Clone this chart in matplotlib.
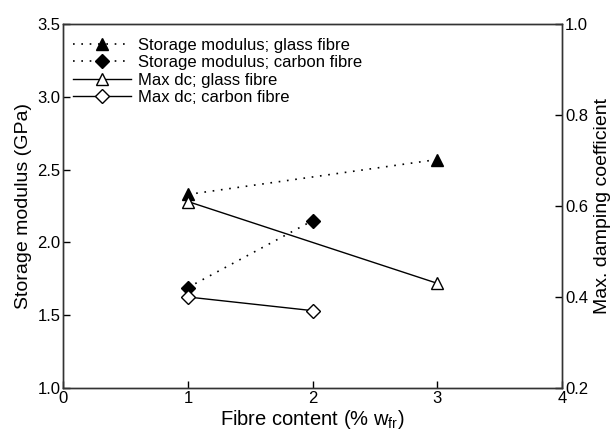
import matplotlib
matplotlib.use('Agg')
import matplotlib.pyplot as plt

plt.rcParams['font.family'] = ['Liberation Sans', 'DejaVu Sans']
plt.rcParams['mathtext.default'] = 'regular'

# Fibre content (% wfr)
glass_x = [1, 3]
carbon_x = [1, 2]

# Storage modulus (GPa), left axis
storage_glass = [2.33, 2.57]
storage_carbon = [1.69, 2.15]

# Max damping coefficient, right axis
dc_glass = [0.61, 0.43]
dc_carbon = [0.40, 0.37]

fig = plt.figure(figsize=(6.13, 4.32), dpi=100)
ax = fig.add_axes([0.103, 0.102, 0.814, 0.842])
ax2 = ax.twinx()

dot = (0, (1, 4))
h1, = ax.plot(glass_x, storage_glass, color='black', linestyle=dot, linewidth=1.2,
              marker='^', markersize=9, markerfacecolor='black', markeredgecolor='black',
              label='Storage modulus; glass fibre')
h2, = ax.plot(carbon_x, storage_carbon, color='black', linestyle=dot, linewidth=1.2,
              marker='D', markersize=7, markerfacecolor='black', markeredgecolor='black',
              label='Storage modulus; carbon fibre')
h3, = ax2.plot(glass_x, dc_glass, color='black', linestyle='-', linewidth=1,
               marker='^', markersize=9, markerfacecolor='white', markeredgecolor='black',
               label='Max dc; glass fibre')
h4, = ax2.plot(carbon_x, dc_carbon, color='black', linestyle='-', linewidth=1,
               marker='D', markersize=7, markerfacecolor='white', markeredgecolor='black',
               label='Max dc; carbon fibre')

ax.set_xlim(0, 4)
ax.set_ylim(1.0, 3.5)
ax2.set_ylim(0.2, 1.0)
ax.set_xticks([0, 1, 2, 3, 4])
ax.set_yticks([1.0, 1.5, 2.0, 2.5, 3.0, 3.5])
ax2.set_yticks([0.2, 0.4, 0.6, 0.8, 1.0])
ax.set_yticklabels(['1.0', '1.5', '2.0', '2.5', '3.0', '3.5'])
ax2.set_yticklabels(['0.2', '0.4', '0.6', '0.8', '1.0'])

for a in (ax, ax2):
    a.tick_params(direction='in', length=5, width=1, labelsize=12, pad=2)
    for s in a.spines.values():
        s.set_linewidth(1)
        s.set_color('#333333')

ax.set_xlabel('Fibre content (% w$_{fr}$)', fontsize=14.5, labelpad=2)
ax.set_ylabel('Storage modulus (GPa)', fontsize=14, labelpad=4)
ax2.set_ylabel('Max. damping coefficient', fontsize=14, labelpad=4)

ax.legend(handles=[h1, h2, h3, h4], loc='upper left', frameon=False, fontsize=12,
          handlelength=3.5, handletextpad=0.4, labelspacing=0.15,
          borderaxespad=0.2, bbox_to_anchor=(0.0, 0.99))

fig.savefig('out.png', dpi=100)
